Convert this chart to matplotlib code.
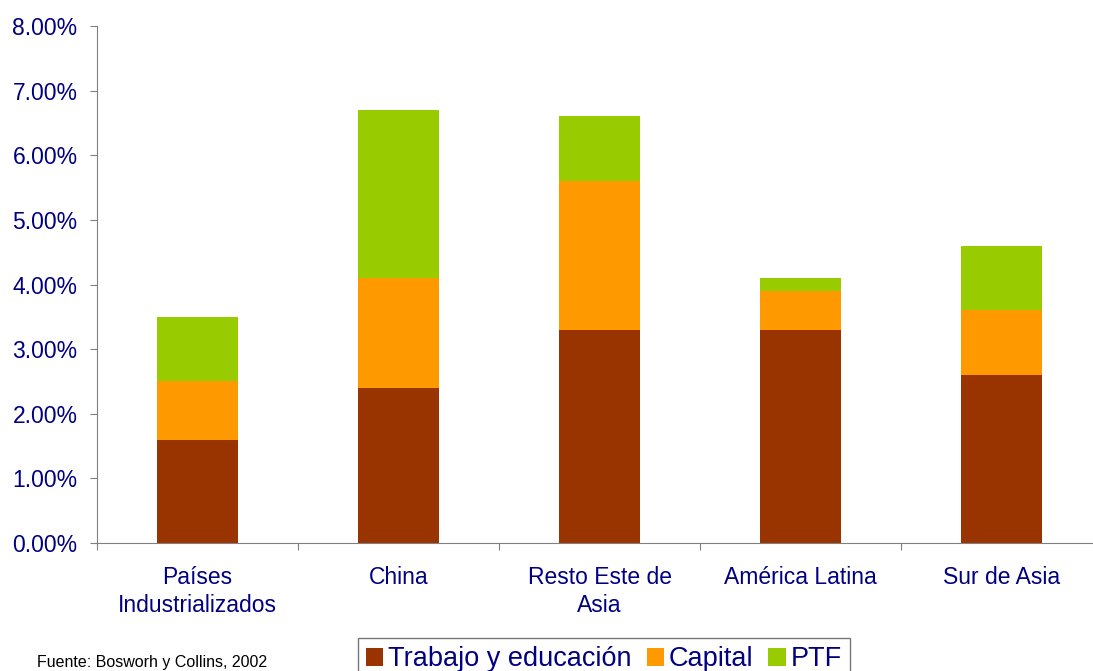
import matplotlib
matplotlib.use("Agg")
from matplotlib import pyplot as plt
import numpy as np

plt.rcParams['font.family'] = ['Liberation Sans', 'DejaVu Sans']

categories = ["Países\nIndustrializados", "China", "Resto Este de\nAsia",
              "América Latina", "Sur de Asia"]
trabajo = [1.6, 2.4, 3.3, 3.3, 2.6]
capital = [0.9, 1.7, 2.3, 0.6, 1.0]
ptf = [1.0, 2.6, 1.0, 0.2, 1.0]
series_names = ["Trabajo y educación", "Capital", "PTF"]
colors = ["#993300", "#FF9900", "#99CC00"]

navy = "#000080"

fig = plt.figure(figsize=(10.93, 6.71), dpi=100)
ax = fig.add_axes([97 / 1093, 1 - 543 / 671, 1005 / 1093, 517 / 671])

x = np.arange(len(categories))
bottom = np.zeros(len(categories))
handles = []
for vals, name, c in zip([trabajo, capital, ptf], series_names, colors):
    h = ax.bar(x, vals, 0.4, bottom=bottom, color=c, label=name)
    handles.append(h)
    bottom += np.array(vals)

ax.set_xlim(-0.5, len(categories) - 0.5)
ax.set_ylim(0, 8)
ax.set_yticks(np.arange(0, 9, 1))
ax.set_yticklabels(["%.2f%%" % v for v in range(9)], color=navy, fontsize=16.5)

# category labels centred, ticks on the boundaries
ax.set_xticks(np.arange(-0.5, len(categories), 1))
ax.set_xticklabels([])
ax.tick_params(axis='x', length=5, color="#808080")
ax.tick_params(axis='y', length=5, color="#808080", pad=9)
for i, cat in enumerate(categories):
    ax.text(i, -0.35, cat, ha='center', va='top', color=navy, fontsize=16.5,
            linespacing=1.3, transform=ax.transData)

for s in ["top", "right"]:
    ax.spines[s].set_visible(False)
ax.spines["left"].set_color("#808080")
ax.spines["bottom"].set_color("#808080")

leg = fig.legend(handles=handles, loc='upper left',
                 bbox_to_anchor=(358 / 1093, 1 - 638 / 671), ncol=3,
                 fontsize=19.5, frameon=True, fancybox=False,
                 handlelength=0.64, handleheight=0.64, handletextpad=0.18,
                 columnspacing=0.55, borderpad=0.3, borderaxespad=0)
leg.get_frame().set_edgecolor("#555555")
leg.get_frame().set_linewidth(1.0)
for t in leg.get_texts():
    t.set_color(navy)

fig.text(37 / 1093, 1 - 662 / 671, "Fuente: Bosworh y Collins, 2002",
         fontsize=11.5, va='center', ha='left', color='black')

fig.savefig("out.png", dpi=100)
